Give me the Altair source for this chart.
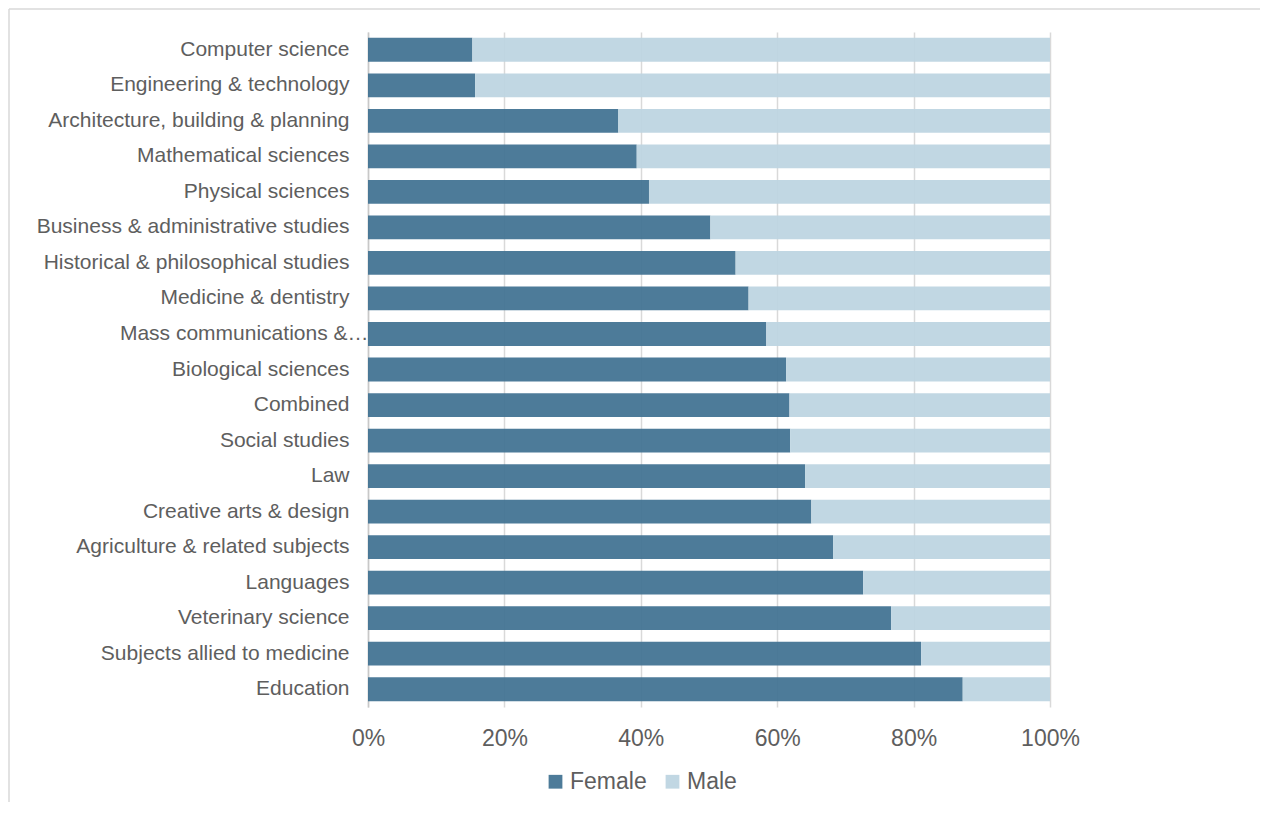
import altair as alt
import pandas as pd

subjects = [
    "Computer science",
    "Engineering & technology",
    "Architecture, building & planning",
    "Mathematical sciences",
    "Physical sciences",
    "Business & administrative studies",
    "Historical & philosophical studies",
    "Medicine & dentistry",
    "Mass communications & documentation",
    "Biological sciences",
    "Combined",
    "Social studies",
    "Law",
    "Creative arts & design",
    "Agriculture & related subjects",
    "Languages",
    "Veterinary science",
    "Subjects allied to medicine",
    "Education",
]
female = [15.3, 15.7, 36.7, 39.4, 41.2, 50.2, 53.9, 55.8, 58.4, 61.3,
          61.8, 61.9, 64.1, 65.0, 68.2, 72.6, 76.7, 81.1, 87.2]
male = [84.7, 84.3, 63.3, 60.6, 58.8, 49.8, 46.1, 44.2, 41.6, 38.7,
        38.2, 38.1, 35.9, 35.0, 31.8, 27.4, 23.3, 18.9, 12.8]
series = ["Female", "Male"]
colors = ["#3f7191", "#bcd4e1"]
x_ticks = [0, 0.2, 0.4, 0.6, 0.8, 1.0]

rows = []
for s, f, m in zip(subjects, female, male):
    rows.append({"subject": s, "gender": "Female", "share": f, "ord": 0})
    rows.append({"subject": s, "gender": "Male", "share": m, "ord": 1})
df = pd.DataFrame(rows)

FONT = "Liberation Sans"
GREY = "#5e5e5e"

bars = alt.Chart(df).mark_bar(opacity=0.93).encode(
    y=alt.Y(
        "subject:N",
        sort=subjects,
        title=None,
        scale=alt.Scale(paddingInner=0.33, paddingOuter=0.165),
        axis=alt.Axis(
            ticks=False,
            domain=True,
            domainColor="#c8c8c8",
            domainWidth=1.5,
            grid=False,
            labelFont=FONT,
            labelFontSize=21,
            labelColor=GREY,
            labelLimit=400,
            labelPadding={"condition": {"test": "datum.value == 'Mass communications & documentation'", "value": 0}, "value": 19},
            labelExpr="datum.value == 'Mass communications & documentation' ? 'Mass communications &\u2026' : datum.value",
        ),
    ),
    x=alt.X(
        "share:Q",
        stack="normalize",
        title=None,
        scale=alt.Scale(domain=[0, 1], nice=False),
        axis=alt.Axis(
            values=x_ticks,
            format=".0%",
            domain=False,
            ticks=False,
            grid=True,
            gridColor="#d9d9d9",
            gridWidth=1.5,
            labelFont=FONT,
            labelFontSize=23,
            labelColor=GREY,
            labelPadding=20,
            labelFlush=False,
        ),
    ),
    color=alt.Color(
        "gender:N",
        scale=alt.Scale(domain=series, range=colors),
        legend=alt.Legend(
            title=None,
            orient="none",
            legendX=176,
            legendY=738,
            direction="horizontal",
            symbolType="square",
            symbolSize=190,
            symbolStrokeWidth=0,
            symbolOpacity=0.93,
            labelFont=FONT,
            labelFontSize=23,
            labelColor=GREY,
            labelOffset=3,
            columnPadding=14,
        ),
    ),
    order=alt.Order("ord:Q"),
)

one = alt.Data(values=[{"a": 1}])
frame_left = alt.Chart(one).mark_rule(color="#d9d9d9", strokeWidth=1.5).encode(
    x=alt.value(-359),
    y=alt.value(-23),
    y2=alt.value(900),
)
frame_top = alt.Chart(one).mark_rule(color="#d9d9d9", strokeWidth=1.5).encode(
    x=alt.value(-359),
    x2=alt.value(1000),
    y=alt.value(-23),
)

chart = alt.layer(frame_left, frame_top, bars).properties(
    width=682,
    height=675,
    autosize=alt.AutoSizeParams(type="none"),
    padding={"left": 360, "top": 24, "right": 210, "bottom": 95},
).configure_view(stroke=None)

chart.save("out.html", embed_options={"renderer": "svg", "actions": False})
